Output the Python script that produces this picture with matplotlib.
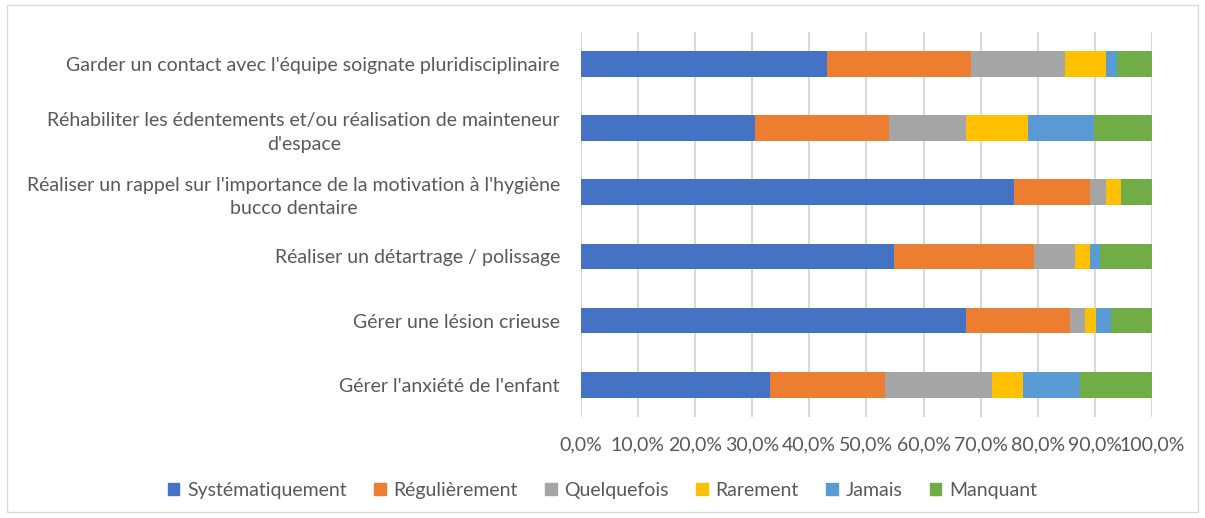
import matplotlib.pyplot as plt
import matplotlib.patches as mpatches
from matplotlib.ticker import FuncFormatter
import numpy as np

plt.rcParams['font.family'] = ['Lato', 'DejaVu Sans']

# --- Données (en %) ---
categories = [
    "Garder un contact avec l'équipe soignate pluridisciplinaire",
    "Réhabiliter les édentements et/ou réalisation de mainteneur\nd'espace",
    "Réaliser un rappel sur l'importance de la motivation à l'hygiène\nbucco dentaire",
    "Réaliser un détartrage / polissage",
    "Gérer une lésion crieuse",
    "Gérer l'anxiété de l'enfant",
]
series_names = ["Systématiquement", "Régulièrement", "Quelquefois", "Rarement", "Jamais", "Manquant"]
systematiquement = [43.1, 30.5, 75.8, 54.9, 67.4, 33.2]
regulierement = [25.2, 23.4, 13.4, 24.5, 18.2, 20.0]
quelquefois = [16.4, 13.6, 2.7, 7.2, 2.7, 18.8]
rarement = [7.2, 10.8, 2.7, 2.6, 1.9, 5.4]
jamais = [1.9, 11.6, 0.0, 1.7, 2.6, 10.0]
manquant = [6.2, 10.1, 5.4, 9.1, 7.2, 12.6]
colors = ['#4472C4', '#ED7D31', '#A5A5A5', '#FFC000', '#5B9BD5', '#70AD47']

values = [systematiquement, regulierement, quelquefois, rarement, jamais, manquant]

fig = plt.figure(figsize=(12.05, 5.18), dpi=100, facecolor='white')
ax = fig.add_axes([0.482, 0.195, 0.474, 0.744])

y = np.arange(len(categories))
left = np.zeros(len(categories))
for name, vals, col in zip(series_names, values, colors):
    ax.barh(y, vals, left=left, height=0.40, color=col, label=name, zorder=3)
    left += np.array(vals)

ax.set_xlim(0, 100)
ax.set_ylim(len(categories) - 0.5, -0.5)
ax.set_xticks(np.arange(0, 101, 10))
ax.xaxis.set_major_formatter(FuncFormatter(lambda v, p: f"{v:.1f}%".replace('.', ',')))
ax.set_yticks(y)
ax.set_yticklabels(categories, multialignment='center', linespacing=1.45)
ax.grid(axis='x', color='#D9D9D9', linewidth=1.5, zorder=0)
for s in ax.spines.values():
    s.set_visible(False)
ax.tick_params(axis='both', length=0, colors='#595959', labelsize=14)
ax.tick_params(axis='y', pad=15)
ax.tick_params(axis='x', pad=14)

handles = [mpatches.Patch(color=c, label=n) for n, c in zip(series_names, colors)]
leg = fig.legend(handles=handles, loc='center', bbox_to_anchor=(0.5, 0.054), ncol=6,
                 frameon=False, fontsize=14, handlelength=0.6, handleheight=0.6,
                 handletextpad=0.4, columnspacing=1.4)
for t in leg.get_texts():
    t.set_color('#595959')

# cadre du graphique
fig.patches.append(mpatches.Rectangle((0.006, 0.012), 0.988, 0.978, transform=fig.transFigure,
                                      fill=False, edgecolor='#D9D9D9', linewidth=1))

fig.savefig('out.png', dpi=100)
